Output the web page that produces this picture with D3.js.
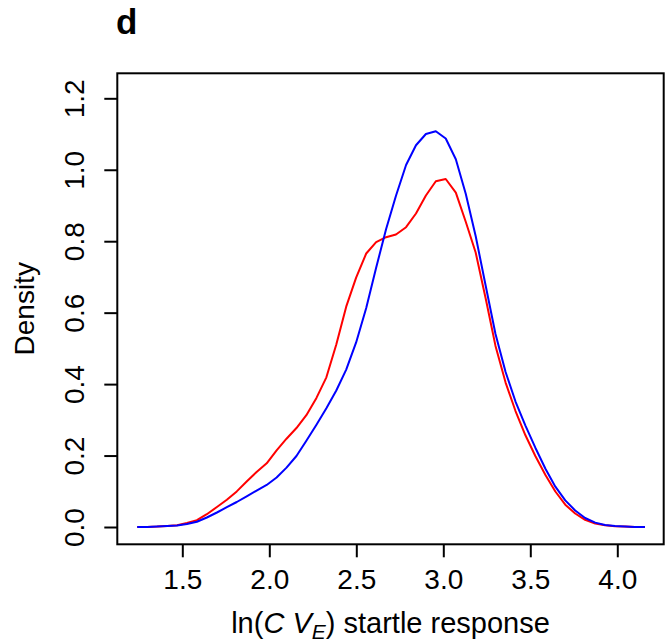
<!DOCTYPE html>
<html>
<head>
<meta charset="utf-8">
<script src="https://cdn.jsdelivr.net/npm/d3@7"></script>
<style>
  html, body { margin: 0; padding: 0; background: #fff; }
  svg { display: block; }
  text { font-family: "Liberation Sans", Arial, Helvetica, sans-serif; fill: #000; }
</style>
</head>
<body>
<svg id="chart" width="665" height="643"></svg>
<script>
// x grid of the density estimate
const xs = [1.241,1.298,1.355,1.413,1.470,1.527,1.584,1.641,1.699,1.756,
            1.813,1.870,1.927,1.985,2.042,2.099,2.156,2.213,2.271,2.328,
            2.385,2.442,2.499,2.557,2.614,2.671,2.728,2.786,2.843,2.900,
            2.957,3.014,3.072,3.129,3.186,3.243,3.300,3.358,3.415,3.472,
            3.529,3.587,3.644,3.701,3.758,3.815,3.873,3.930,3.987,4.044,
            4.101,4.159];
// red density curve
const redDensity = [0,0.0003,0.0011,0.0028,0.0050,0.0112,0.0190,0.0358,0.0560,0.0764,
                    0.0997,0.1274,0.1540,0.1783,0.2147,0.2472,0.2771,0.3130,0.3614,0.4190,
                    0.5111,0.6167,0.6981,0.7656,0.7975,0.8112,0.8188,0.8392,0.8775,0.9279,
                    0.9677,0.9741,0.9358,0.8546,0.7684,0.6410,0.5069,0.4042,0.3247,0.2567,
                    0.1987,0.1456,0.0994,0.0624,0.0378,0.0202,0.0095,0.0048,0.0022,0.0011,
                    0.0003,0];
// blue density curve
const blueDensity = [0,0.0003,0.0011,0.0025,0.0042,0.0084,0.0148,0.0266,0.0406,0.0554,
                     0.0700,0.0859,0.1019,0.1176,0.1386,0.1663,0.1987,0.2416,0.2864,0.3325,
                     0.3821,0.4406,0.5167,0.6130,0.7258,0.8333,0.9274,1.0133,1.0687,1.1001,
                     1.1079,1.0875,1.0295,0.9330,0.8146,0.6766,0.5402,0.4339,0.3513,0.2838,
                     0.2220,0.1632,0.1128,0.0745,0.0462,0.0252,0.0123,0.0056,0.0025,0.0011,
                     0.0003,0];
const xTicks = [1.5, 2.0, 2.5, 3.0, 3.5, 4.0];
const yTicks = [0.0, 0.2, 0.4, 0.6, 0.8, 1.0, 1.2];
const panelLabel = "d";
const yTitle = "Density";

const svg = d3.select("#chart");
const L = 117.3, R = 663.7, T = 73.3, B = 544.3;

const x = d3.scaleLinear().domain([1.1264, 4.2667]).range([L, R]);
const y = d3.scaleLinear().domain([-0.0484, 1.2700]).range([B, T]);

const line = d3.line().x(d => x(d[0])).y(d => y(d[1]));

svg.append("path")
  .datum(xs.map((v, i) => [v, redDensity[i]]))
  .attr("d", line).attr("fill", "none")
  .attr("stroke", "#ff0000").attr("stroke-width", 2).attr("stroke-linejoin", "round");

svg.append("path")
  .datum(xs.map((v, i) => [v, blueDensity[i]]))
  .attr("d", line).attr("fill", "none")
  .attr("stroke", "#0000ff").attr("stroke-width", 2).attr("stroke-linejoin", "round");

// box
svg.append("rect")
  .attr("x", L).attr("y", T).attr("width", R - L).attr("height", B - T)
  .attr("fill", "none").attr("stroke", "#000").attr("stroke-width", 2);

// x axis
const gx = svg.append("g").attr("transform", `translate(0,${B})`)
  .call(d3.axisBottom(x).tickValues(xTicks).tickSize(13).tickFormat(d3.format(".1f")));
gx.select(".domain").remove();
gx.selectAll(".tick line").attr("stroke", "#000").attr("stroke-width", 2);
gx.selectAll(".tick text")
  .attr("y", 44.5).attr("dy", 0)
  .style("font-size", "28px");

// y axis
const gy = svg.append("g").attr("transform", `translate(${L},0)`)
  .call(d3.axisLeft(y).tickValues(yTicks).tickSize(13).tickFormat(d3.format(".1f")));
gy.select(".domain").remove();
gy.selectAll(".tick line").attr("stroke", "#000").attr("stroke-width", 2);
gy.selectAll(".tick text")
  .attr("x", 0).attr("y", -33.5).attr("dy", 0)
  .attr("transform", "rotate(-90)")
  .attr("text-anchor", "middle")
  .style("font-size", "28px");

// y title
svg.append("text")
  .attr("transform", `translate(34,${(T + B) / 2}) rotate(-90)`)
  .attr("text-anchor", "middle")
  .style("font-size", "28px")
  .text(yTitle);

// x title
const xt = svg.append("text")
  .attr("x", (L + R) / 2).attr("y", 633)
  .attr("text-anchor", "middle")
  .style("font-size", "29px");
xt.append("tspan").text("ln(");
xt.append("tspan").style("font-style", "italic").text("C V");
xt.append("tspan").style("font-style", "italic").style("font-size", "21px").attr("dy", 6).text("E");
xt.append("tspan").attr("dy", -6).text(") startle response");

// panel label
svg.append("text")
  .attr("x", 116).attr("y", 34)
  .style("font-size", "35px").style("font-weight", "bold")
  .text(panelLabel);
</script>
</body>
</html>
